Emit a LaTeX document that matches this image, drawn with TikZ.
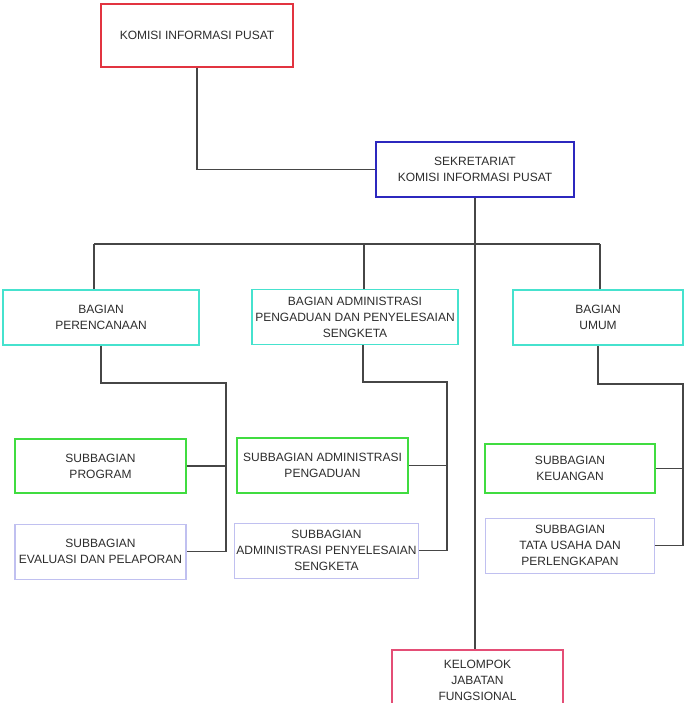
\documentclass[tikz,border=0pt]{standalone}
\usepackage{fontspec}
\setmainfont{Liberation Sans}
\usepackage{xcolor}
\usetikzlibrary{positioning}
\definecolor{kipred}{RGB}{226,52,64}
\definecolor{sekblue}{RGB}{44,40,190}
\definecolor{bagcyan}{RGB}{70,226,206}
\definecolor{subgreen}{RGB}{64,220,64}
\definecolor{sublav}{RGB}{192,192,240}
\definecolor{fungpink}{RGB}{228,78,118}
\definecolor{linegray}{RGB}{70,70,70}
\definecolor{txtgray}{RGB}{45,45,45}

\begin{document}
\begin{tikzpicture}[
  x=1pt, y=-1pt,
  box/.style={rectangle, draw, line width=1.5pt, fill=white, align=center,
              inner sep=2pt, text=txtgray, font=\fontsize{12}{16}\selectfont},
  top/.style={box, draw=kipred},
  sek/.style={box, draw=sekblue},
  bag/.style={box, draw=bagcyan, minimum height=55pt},
  subg/.style={box, draw=subgreen, minimum width=171pt},
  subl/.style={box, draw=sublav, line width=1.1pt, minimum height=55pt},
  fung/.style={box, draw=fungpink},
  con/.style={draw=linegray, line width=1.1pt},
]
\fill[white] (0,0) rectangle (685,703);
\useasboundingbox (0,0) rectangle (685,703);

% pimpinan dan sekretariat
\node[top, minimum width=192pt, minimum height=63pt] (kip) at (197,35.5) {KOMISI INFORMASI PUSAT};
\node[sek, minimum width=198pt, minimum height=55pt] (sek) at (475,169.5) {SEKRETARIAT\\KOMISI INFORMASI PUSAT};

% bagian
\node[bag, minimum width=196pt] (bper) at (101,317.5) {BAGIAN\\PERENCANAAN};
\node[bag, minimum width=206pt] (badm) at (355,317) {BAGIAN ADMINISTRASI\\PENGADUAN DAN PENYELESAIAN\\SENGKETA};
\node[bag, minimum width=170pt] (bum)  at (598,317.5) {BAGIAN\\UMUM};

% subbagian
\node[subg, minimum height=54pt] (sprog) at (100.5,466) {SUBBAGIAN\\PROGRAM};
\node[subl, minimum width=171pt, below=30pt of sprog] (seval) {SUBBAGIAN\\EVALUASI DAN PELAPORAN};
\node[subg, minimum height=55pt] (speng) at (322.5,465.5) {SUBBAGIAN ADMINISTRASI\\PENGADUAN};
\node[subl, minimum width=183pt, below=29pt of speng, xshift=4pt] (spen) {SUBBAGIAN\\ADMINISTRASI PENYELESAIAN\\SENGKETA};
\node[subg, minimum width=170pt, minimum height=49pt] (skeu) at (570,468.5) {SUBBAGIAN\\KEUANGAN};
\node[subl, minimum width=169pt, below=24pt of skeu] (stu) {SUBBAGIAN\\TATA USAHA DAN\\PERLENGKAPAN};

% kelompok jabatan fungsional
\node[fung, minimum width=171pt, minimum height=60pt] (kjf) at (477.5,680) {KELOMPOK\\JABATAN\\FUNGSIONAL};

% titik bantu
\coordinate (busL) at (94,244);
\coordinate (busM) at (364,244);
\coordinate (busR) at (600,244);
\coordinate (perR) at (226,383);
\coordinate (admR) at (447,382);
\coordinate (umR)  at (683,384);

% garis
\draw[con] (kip.south) |- (sek.west);
\draw[con] (sek.south) -- (sek.south |- kjf.north);
\draw[con] (busL) -- (busR);
\draw[con] (busL) -- (busL |- bper.north);
\draw[con] (busM) -- (busM |- badm.north);
\draw[con] (busR) -- (busR |- bum.north);
\draw[con] (bper.south) |- (perR) -- (perR |- seval.east) -- (seval.east);
\draw[con] (sprog.east) -- (sprog.east -| perR);
\draw[con] (badm.south -| 363,0) |- (admR) -- (admR |- spen.east) -- (spen.east);
\draw[con] (speng.east) -- (speng.east -| admR);
\draw[con] (bum.south) |- (umR) -- (umR |- stu.east) -- (stu.east);
\draw[con] (skeu.east) -- (skeu.east -| umR);
\end{tikzpicture}
\end{document}
